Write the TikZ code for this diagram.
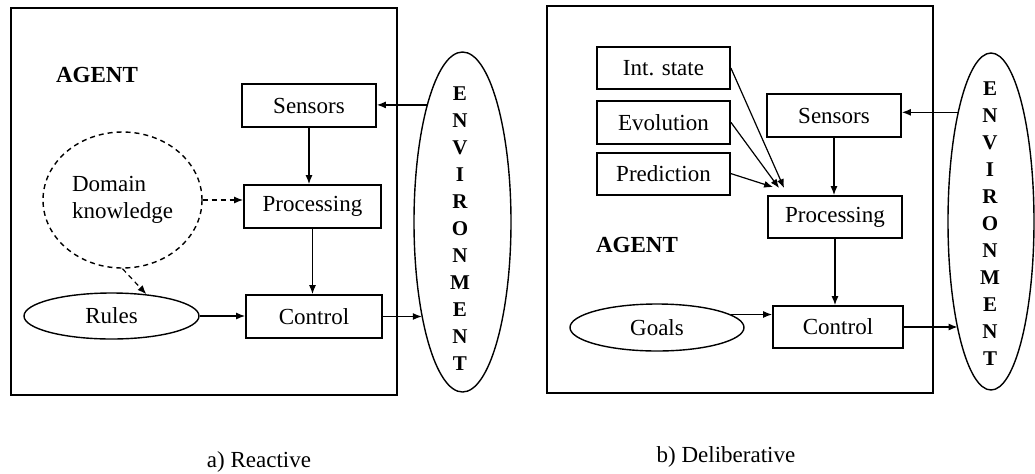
\documentclass[tikz,border=0pt]{standalone}
\usepackage{fontspec}
\setmainfont{Liberation Serif}
\usepackage{tikz}
\usetikzlibrary{positioning,arrows.meta,shapes.geometric,calc}

\begin{document}
\begin{tikzpicture}[x=0.5pt, y=-0.5pt, line width=0.6pt,
  font=\fontsize{11.5}{13.8}\selectfont,
  frame/.style={draw, line width=0.9pt, minimum width=193pt, minimum height=193.5pt},
  blk/.style={draw, line width=0.9pt, minimum width=67pt, minimum height=21.5pt, inner sep=0pt},
  oval/.style={draw, ellipse, line width=0.7pt, inner sep=0pt},
  envtxt/.style={font=\fontsize{10.5}{13.5}\selectfont\bfseries, align=center},
  lbl/.style={font=\fontsize{11.5}{13.8}\selectfont\bfseries},
  dsh/.style={dash pattern=on 2.5pt off 2pt},
  >={Latex[length=4.5pt,width=3.5pt]}]
\useasboundingbox (0,0) rectangle (1035,473);
\node[frame] (agentA) at (204,201.5) {};
\node[lbl] (agentAlbl) at (97,75) {AGENT};
\node[blk] (sensA) at (309,105.5) {Sensors};
\node[blk, minimum width=68.5pt] (procA) at (312.5,206.5) {Processing};
\node[blk, minimum width=68pt] (ctrlA) at (314,316.5) {Control};
\node[oval, dsh, minimum width=79.5pt, minimum height=68pt, align=left] (domA) at (122.5,200) {Domain\\knowledge};
\node[oval, minimum width=87.5pt, minimum height=23pt] (rulesA) at (111.5,316) {Rules};
\node[oval, minimum width=48.5pt, minimum height=170pt] (envA) at (462.5,222) {};
\node[envtxt] (envAtxt) at (460,228.5) {E\\N\\V\\I\\R\\O\\N\\M\\E\\N\\T};
\node (capA) at (259,462) {a) Reactive};
\draw[->] (envA.107) -- (envA.107 -| sensA.east);
\draw[->] (sensA.south) -- (sensA.south |- procA.north);
\draw[->] (procA.south) -- (procA.south |- ctrlA.north);
\draw[->, dsh] (domA.east) -- (domA.east -| procA.west);
\draw[->, dsh] (domA.south) -- (rulesA.32);
\draw[->] (rulesA.east) -- (rulesA.east -| ctrlA.west);
\draw[->] (ctrlA.east) -- (ctrlA.east -| envA.247);

\node[frame] (agentB) at (740,199.5) {};
\node[blk, minimum width=66.5pt, minimum height=21pt] (intB) at (663.5,68) {Int. state};
\node[blk, minimum width=66.5pt, below=5pt of intB] (evoB) {Evolution};
\node[blk, minimum width=66.5pt, minimum height=21pt, below=3.5pt of evoB] (predB) {Prediction};
\node[blk] (sensB) at (834,115.5) {Sensors};
\node[blk, minimum height=21pt] (procB) at (835,217) {Processing};
\node[blk, minimum width=65pt, minimum height=21pt] (ctrlB) at (838,327) {Control};
\node[lbl] (agentBlbl) at (637,245) {AGENT};
\node[oval, minimum width=87pt, minimum height=23.5pt] (goalsB) at (657,327.5) {Goals};
\node[oval, minimum width=43pt, minimum height=168.5pt] (envB) at (991,221.5) {};
\node[envtxt] (envBtxt) at (990,224) {E\\N\\V\\I\\R\\O\\N\\M\\E\\N\\T};
\node (capB) at (726,457) {b) Deliberative};
\coordinate (tipI) at ($(procB.north west)+(17,-7)$);
\coordinate (tipE) at ($(procB.north west)+(12,-7)$);
\coordinate (tipP) at ($(procB.north west)+(6,-8)$);
\draw[->] (intB.east) -- (tipI);
\draw[->] (evoB.east) -- (tipE);
\draw[->] (predB.east) -- (tipP);
\draw[->] (envB.107) -- (envB.107 -| sensB.east);
\draw[->] (sensB.south) -- (sensB.south |- procB.north);
\draw[->] (procB.south) -- (procB.south |- ctrlB.north);
\draw[->] (goalsB.10) -- (goalsB.10 -| ctrlB.west);
\draw[->] (ctrlB.east) -- (ctrlB.east -| envB.253);
\end{tikzpicture}
\end{document}
